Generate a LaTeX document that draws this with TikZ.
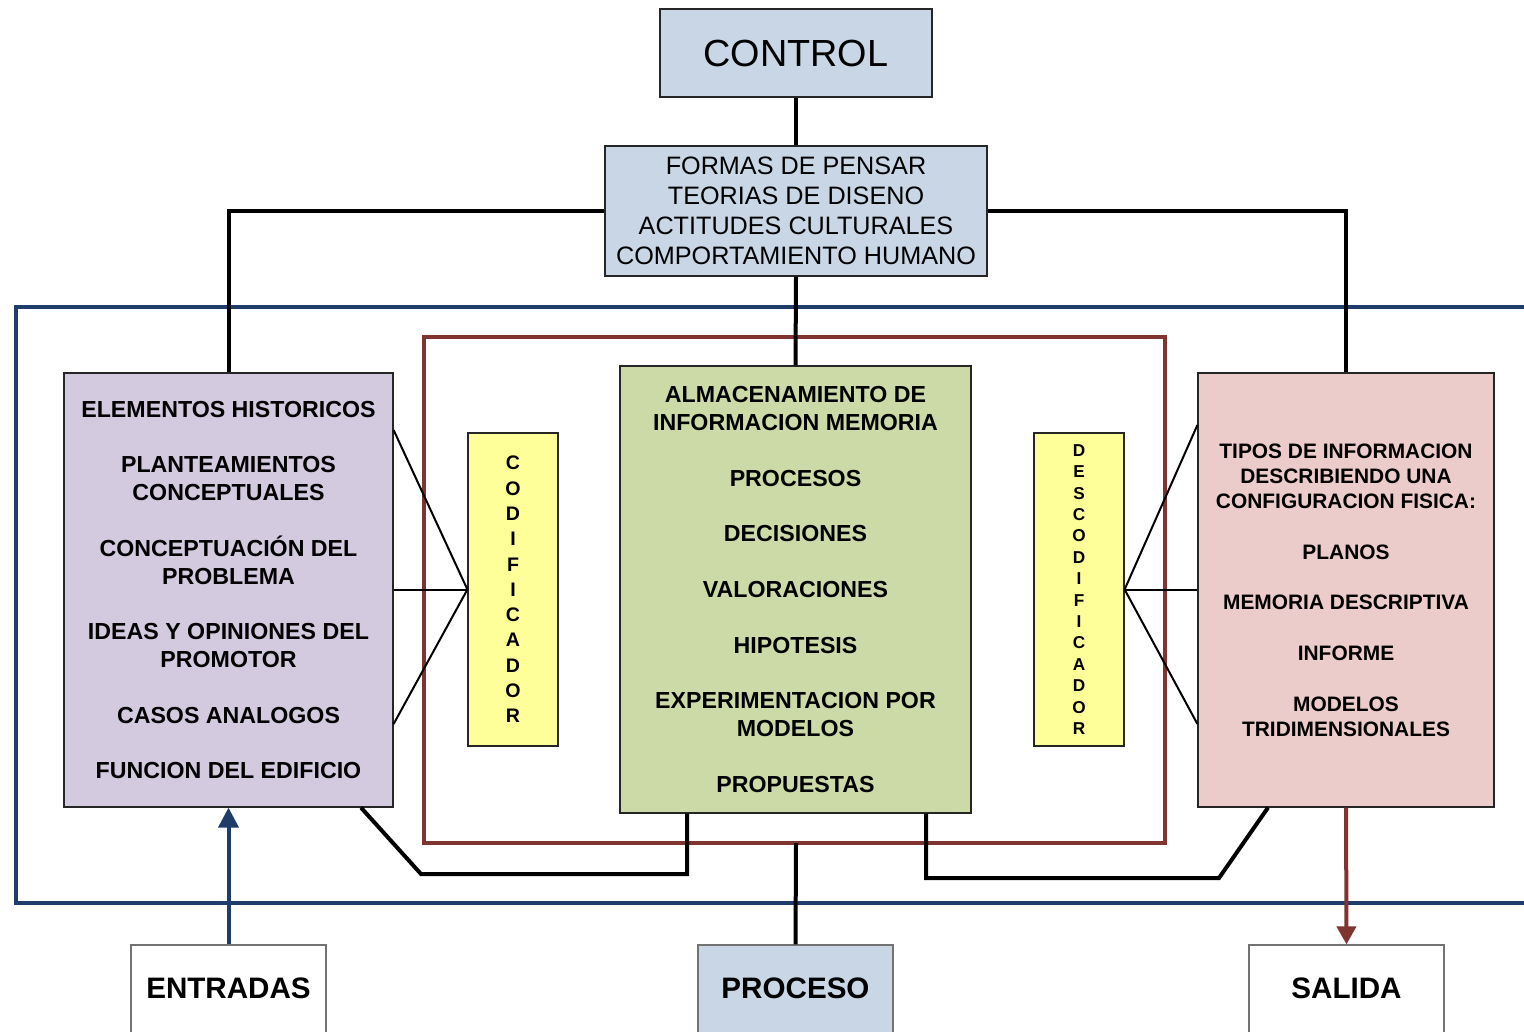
\documentclass[tikz,border=0pt]{standalone}
\usepackage{fontspec}
\setmainfont{Liberation Sans}
\usetikzlibrary{arrows.meta}
\definecolor{boxblue}{RGB}{201,214,230}
\definecolor{boxpurple}{RGB}{211,202,224}
\definecolor{boxgreen}{RGB}{204,218,168}
\definecolor{boxpink}{RGB}{236,204,203}
\definecolor{boxyellow}{RGB}{255,255,153}
\definecolor{navyline}{RGB}{31,61,106}
\definecolor{redline}{RGB}{127,52,48}
\begin{document}
\begin{tikzpicture}[x=0.5pt,y=-0.5pt,
  box/.style={draw=black!85, line width=0.6pt, inner sep=0pt, align=center},
  endbox/.style={draw=black!55, line width=0.6pt, inner sep=0pt, align=center,
    minimum width=97.5pt, minimum height=50pt, text height=10.5pt, text depth=7pt,
    font=\fontsize{14.8}{17}\selectfont\bfseries},
  bodyfont/.style={font=\fontsize{11.6}{13.9}\selectfont\bfseries},
  conn/.style={line width=2pt, black},
  thinconn/.style={line width=1pt, black},
  blueframe/.style={line width=2pt, navyline},
  redframe/.style={line width=2pt, redline},
]
\useasboundingbox (0,0) rectangle (1524,1032);
\clip (0,0) rectangle (1524,1032);

% frames
\draw[blueframe] (1530,307) -| (16,903) -- (1530,903);
\draw[redframe] (424,337) rectangle (1165,843);
\coordinate (redbot) at (796,843);

% nodes
\node[box, fill=boxblue, minimum width=136pt, minimum height=44pt,
  font=\fontsize{18.9}{22}\selectfont] (control) at (796,53) {CONTROL};
\node[box, fill=boxblue, minimum width=191pt, minimum height=65pt,
  font=\fontsize{12.6}{15}\selectfont] (formas) at (796,211)
  {FORMAS DE PENSAR\\TEORIAS DE DISENO\\ACTITUDES CULTURALES\\COMPORTAMIENTO HUMANO};
\node[box, bodyfont, fill=boxpurple, minimum width=164.5pt, minimum height=217pt] (leftbox) at (228.5,590)
  {ELEMENTOS HISTORICOS\\[13.9pt]PLANTEAMIENTOS\\CONCEPTUALES\\[13.9pt]CONCEPTUACIÓN DEL\\PROBLEMA\\[13.9pt]IDEAS Y OPINIONES DEL\\PROMOTOR\\[13.9pt]CASOS ANALOGOS\\[13.9pt]FUNCION DEL EDIFICIO};
\node[box, fill=boxyellow, minimum width=45pt, minimum height=156.5pt,
  font=\fontsize{9.8}{12.65}\selectfont\bfseries] (cod) at (513,589.5)
  {C\\O\\D\\I\\F\\I\\C\\A\\D\\O\\R};
\node[box, bodyfont, fill=boxgreen, minimum width=175.5pt, minimum height=223.5pt] (green) at (795.5,589.5)
  {ALMACENAMIENTO DE\\INFORMACION MEMORIA\\[13.9pt]PROCESOS\\[13.9pt]DECISIONES\\[13.9pt]VALORACIONES\\[13.9pt]HIPOTESIS\\[13.9pt]EXPERIMENTACION POR\\MODELOS\\[13.9pt]PROPUESTAS};
\node[box, fill=boxyellow, minimum width=45pt, minimum height=156.5pt,
  font=\fontsize{8.6}{10.7}\selectfont\bfseries] (desc) at (1079,589.5)
  {D\\E\\S\\C\\O\\D\\I\\F\\I\\C\\A\\D\\O\\R};
\node[box, fill=boxpink, minimum width=148pt, minimum height=217pt,
  font=\fontsize{10.45}{12.65}\selectfont\bfseries] (rightbox) at (1346,590)
  {TIPOS DE INFORMACION\\DESCRIBIENDO UNA\\CONFIGURACION FISICA:\\[12.65pt]PLANOS\\[12.65pt]MEMORIA DESCRIPTIVA\\[12.65pt]INFORME\\[12.65pt]MODELOS\\TRIDIMENSIONALES};
\node[endbox, fill=white] (entradas) at (228.5,995) {ENTRADAS};
\node[endbox, fill=boxblue] (proceso) at (795.5,995) {PROCESO};
\node[endbox, fill=white] (salida) at (1346.5,995) {SALIDA};

% thick connectors
\draw[conn] (control.south) -- (formas.north);
\draw[conn] (formas.west) -| (leftbox.north);
\draw[conn] (formas.east) -| (rightbox.north);
\draw[conn] (formas.south) -- (green.north);
\draw[conn] ([xshift=66.25pt]leftbox.south) -- (421,874) -| ([xshift=-54.25pt]green.south);
\draw[conn] ([xshift=65.25pt]green.south) |- (1219,878) -- ([xshift=-39pt]rightbox.south);
\draw[conn] (redbot) -- (proceso.north);

% thin connectors
\draw[thinconn] ([yshift=80pt]leftbox.east) -- (cod.west);
\draw[thinconn] (leftbox.east |- cod.west) -- (cod.west);
\draw[thinconn] ([yshift=-67pt]leftbox.east) -- (cod.west);
\draw[thinconn] (desc.east) -- ([yshift=82.5pt]rightbox.west);
\draw[thinconn] (desc.east) -- (rightbox.west |- desc.east);
\draw[thinconn] (desc.east) -- ([yshift=-67pt]rightbox.west);

% arrows
\draw[line width=2pt, navyline, -{Triangle[length=10pt,width=10pt]}] (entradas.north) -- (leftbox.south);
\draw[line width=2pt, redline, -{Triangle[length=9pt,width=9.5pt]}] (rightbox.south) -- (salida.north);
\end{tikzpicture}
\end{document}
